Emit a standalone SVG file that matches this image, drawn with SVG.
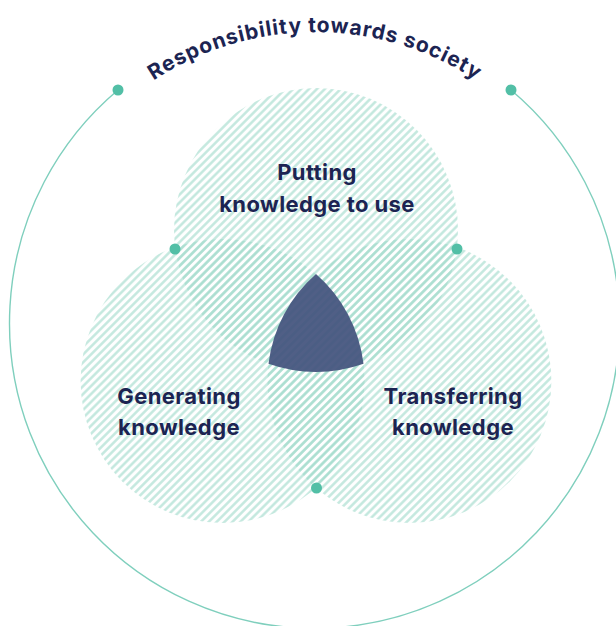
<svg xmlns="http://www.w3.org/2000/svg" width="616" height="626" viewBox="0 0 616 626">
  <defs>
    <pattern id="hatch" patternUnits="userSpaceOnUse" width="5.6" height="5.6" patternTransform="rotate(45)">
      <line x1="1.4" y1="-1" x2="1.4" y2="7" stroke="#9bd8c8" stroke-width="2.4" stroke-opacity="0.62"/>
    </pattern>
    <path id="titleArc" d="M22 325 A293 293 0 0 1 608 325"/>
  </defs>
  <style>
    .circle { fill: url(#hatch); }
    .label { font-family: Inter, "Noto Sans", "Liberation Sans", sans-serif; font-weight: 700; font-size: 22px; letter-spacing: 0.4px; fill: #1c2452; text-anchor: middle; }
    .title { font-family: Inter, "Noto Sans", "Liberation Sans", sans-serif; font-weight: 700; font-size: 21px; fill: #1c2452; letter-spacing: 0.9px; }
    .dot { fill: #52bfa6; }
    .ring { fill: none; stroke: #7fcfbd; stroke-width: 1.4; }
  </style>
  <rect width="616" height="626" fill="#ffffff"/>

  <g id="connectors">
    <path class="ring" d="M118 90 A305 305 0 1 0 511 90"/>
  </g>

  <g id="title">
    <text class="title"><textPath href="#titleArc" startOffset="50%" text-anchor="middle">Responsibility towards society</textPath></text>
    <circle class="dot" cx="118" cy="90" r="5.5"/>
    <circle class="dot" cx="511" cy="90" r="5.5"/>
  </g>

  <g id="putting">
    <circle class="circle" cx="316" cy="230" r="142"/>
  </g>
  <g id="generating">
    <circle class="circle" cx="222.6" cy="381" r="142"/>
  </g>
  <g id="transferring">
    <circle class="circle" cx="409.4" cy="381" r="142"/>
  </g>

  <g id="center">
    <path d="M316 274 A142 142 0 0 1 363.5 363.8 A142 142 0 0 1 268.5 363.8 A142 142 0 0 1 316 274 Z" fill="#47567f" fill-opacity="0.95"/>
  </g>

  <g id="dots">
    <circle class="dot" cx="175" cy="249" r="5.5"/>
    <circle class="dot" cx="457" cy="249" r="5.5"/>
    <circle class="dot" cx="316.5" cy="488" r="5.5"/>
  </g>

  <g id="labels">
    <text class="label" x="317" y="180">Putting</text>
    <text class="label" x="317" y="212">knowledge to use</text>
    <text class="label" x="179" y="404">Generating</text>
    <text class="label" x="179" y="435">knowledge</text>
    <text class="label" x="453" y="404">Transferring</text>
    <text class="label" x="453" y="435">knowledge</text>
  </g>
</svg>
